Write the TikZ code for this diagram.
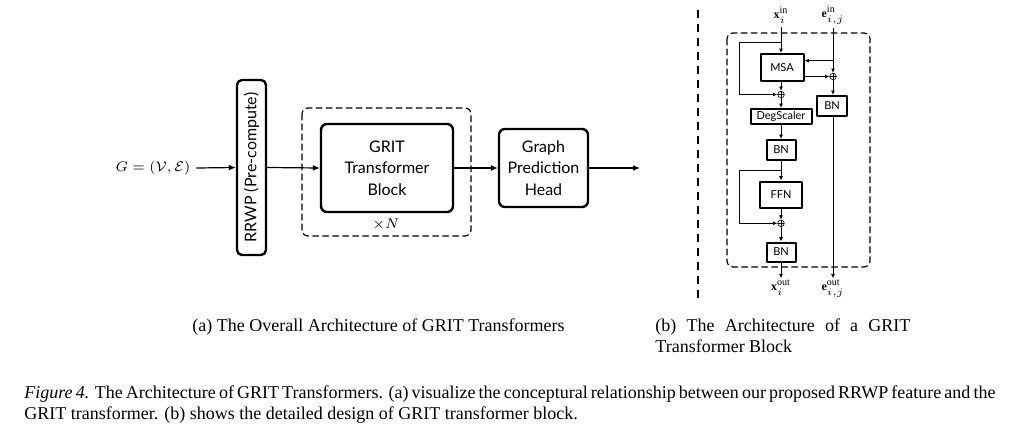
\documentclass[tikz,border=0pt]{standalone}
\usepackage{fontspec}
\setmainfont{Liberation Serif}
\setsansfont{Lato}
\usetikzlibrary{arrows.meta,calc}

\tikzset{
  blk/.style={draw,rounded corners=3pt,line width=1.2pt,align=center,inner sep=0pt,
    font=\sffamily\fontsize{8}{10.75}\selectfont},
  sblk/.style={draw,line width=1pt,inner sep=0pt,font=\sffamily\fontsize{5.5}{6}\selectfont},
  addop/.style={circle,draw,line width=.3pt,inner sep=0pt,minimum size=3.3pt,
    path picture={\draw[line width=.3pt]
      (path picture bounding box.north)--(path picture bounding box.south)
      (path picture bounding box.west)--(path picture bounding box.east);}},
  dashbox/.style={dash pattern=on 3pt off 2pt,line width=.6pt,rounded corners=3pt},
  captxt/.style={font=\fontsize{9}{10.5}\selectfont,inner sep=0pt},
  sarr/.style={-{Latex[length=2.2pt,width=2pt]},line width=.45pt},
  larr/.style={-{Latex[length=3.5pt,width=3pt]},line width=.6pt}
}

\begin{document}
\begin{tikzpicture}[x=.5pt,y=-.5pt,line cap=round,line join=round]
  \useasboundingbox (0,0) rectangle (1011,428);

  % (a) overall architecture
  \node[font=\fontsize{7.5}{9}\selectfont,inner sep=0pt] (gin) at (153,168) {$G=(\mathcal{V},\mathcal{E})$};
  \node[blk,rotate=90,minimum width=87.5pt,minimum height=14.5pt,rounded corners=2.5pt] (rrwp) at (251.5,167.5) {RRWP (Pre-compute)};
  \node[blk,minimum width=66pt,minimum height=44pt] (grit) at (387,168) {GRIT\\Transformer\\Block};
  \node[blk,minimum width=44.5pt,minimum height=39pt] (head) at (543.5,168) {Graph\\Prediction\\Head};
  \draw[dashbox] (302,108) rectangle (471,236);
  \node[font=\fontsize{7}{8}\selectfont,inner sep=0pt] (rep) at (386,225) {$\times N$};
  \coordinate (aout) at (640,168);

  \draw[larr] (gin.east) ++(3pt,0) -- (rrwp.north);
  \draw[larr] (rrwp.south) -- (grit.west);
  \draw[larr] (grit.east) -- (head.west);
  \draw[larr] (head.east) -- (aout);

  % divider
  \draw[dash pattern=on 4pt off 3pt,line width=.8pt,line cap=butt] (698,10) -- (698,300);

  % (b) GRIT transformer block
  \draw[dashbox] (727,33) rectangle (870,267);
  \node[font=\fontsize{6}{7}\selectfont,inner sep=0pt] (xin) at (781,15) {$\mathbf{x}_i^{\mathrm{in}}$};
  \node[font=\fontsize{6}{7}\selectfont,inner sep=0pt] (ein) at (833,15) {$\mathbf{e}_{i,j}^{\mathrm{in}}$};
  \node[sblk,minimum width=21.5pt,minimum height=13.5pt] (msa) at (782,67.5) {MSA};
  \node[addop] (add1) at (781,94.5) {};
  \node[addop] (add2) at (833,76.5) {};
  \node[sblk,minimum width=15pt,minimum height=10pt] (ebn) at (832,106) {BN};
  \node[sblk,minimum width=30.5pt,minimum height=7.5pt] (deg) at (781,116.5) {DegScaler};
  \node[sblk,minimum width=14.5pt,minimum height=10pt] (bn1) at (781,150) {BN};
  \node[sblk,minimum width=21pt,minimum height=13pt] (ffn) at (781,194.5) {FFN};
  \node[addop] (add3) at (781,223.3) {};
  \node[sblk,minimum width=14.5pt,minimum height=9.5pt] (bn2) at (781,252) {BN};
  \node[font=\fontsize{6}{7}\selectfont,inner sep=0pt] (xout) at (781,288) {$\mathbf{x}_i^{\mathrm{out}}$};
  \node[font=\fontsize{6}{7}\selectfont,inner sep=0pt] (eout) at (833,289) {$\mathbf{e}_{i,j}^{\mathrm{out}}$};

  \coordinate (xs1) at (781,42.7);
  \coordinate (xl1) at (739.5,94.5);
  \coordinate (es1) at (833,60.7);
  \coordinate (xs2) at (781,170.7);
  \coordinate (xl2) at (739.5,223.3);
  \coordinate (xend) at (781,278.3);
  \coordinate (eend) at (833,278.3);

  \draw[sarr] (xin.south) ++(0,-2pt) -- (xin.south |- msa.north);
  \draw[sarr] (xs1) -| (xl1) -- (add1.west);
  \draw[sarr] (ein.south) ++(0,-2pt) -- (add2.north);
  \draw[sarr] (es1) -- (msa.east |- es1);
  \draw[sarr] (msa.east |- add2) -- (add2.west);
  \draw[sarr] (add2.south) -- (ebn.north -| add2);
  \draw[sarr] (ebn.south -| add2) -- (eend);
  \draw[sarr] (msa.south -| add1) -- (add1.north);
  \draw[sarr] (add1.south) -- (deg.north);
  \draw[sarr] (deg.south) -- (bn1.north);
  \draw[sarr] (bn1.south) -- (ffn.north);
  \draw[sarr] (xs2) -| (xl2) -- (add3.west);
  \draw[sarr] (ffn.south) -- (add3.north);
  \draw[sarr] (add3.south) -- (bn2.north);
  \draw[sarr] (bn2.south) -- (xend);

  % captions
  \node[captxt,anchor=base] (capa) at (378.5,331) {(a) The Overall Architecture of GRIT Transformers};
  \node[captxt,anchor=north west,text width=127.5pt,align=justify] (capb) at (655,318)
    {(b) The Architecture of a GRIT\linebreak Transformer Block};
  \node[captxt,anchor=north west,text width=485.5pt,align=justify] (fig) at (24,385)
    {\textit{Figure 4.} The Architecture of GRIT Transformers. (a) visualize the conceptural relationship between our proposed RRWP feature and the\linebreak GRIT transformer. (b) shows the detailed design of GRIT transformer block.};
\end{tikzpicture}
\end{document}
